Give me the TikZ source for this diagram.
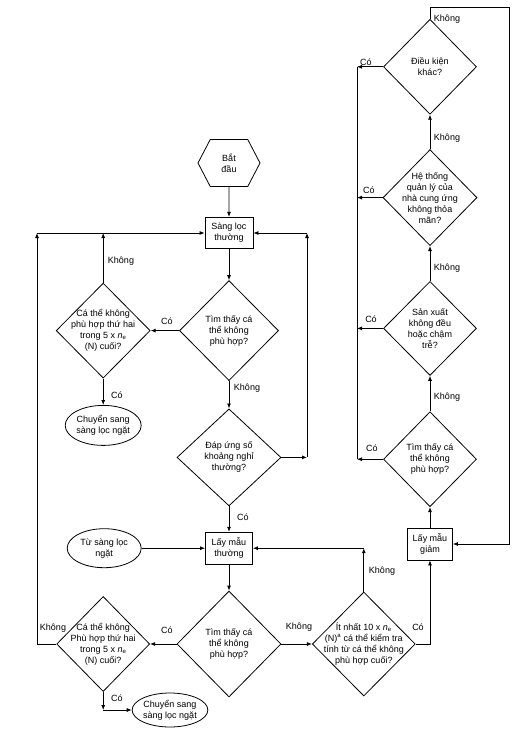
\documentclass[tikz,border=0pt]{standalone}
\usepackage{fontspec}
\setmainfont{Liberation Sans}
\usepackage{tikz}
\usetikzlibrary{arrows.meta,positioning,shapes.geometric,shapes.symbols}

\begin{document}
\begin{tikzpicture}[
    x=1pt, y=-1pt,
    font=\fontsize{9}{11}\selectfont,
    terminal/.style={signal, signal to=east and west, signal pointer angle=125, draw, thick, minimum width=62pt, minimum height=47pt, inner sep=0pt, align=center},
    block/.style={rectangle, draw, thick, minimum width=48pt, minimum height=31pt, inner sep=1pt, align=center},
    decision/.style={diamond, draw, thick, aspect=1, inner sep=-16pt, align=center},
    outcome/.style={ellipse, draw, thick, minimum width=76pt, minimum height=40pt, inner sep=0pt, align=center},
    arrow/.style={-{Latex[length=5pt,width=4pt]}, thick},
    wire/.style={thick},
    answer/.style={inner sep=0pt}
  ]
  \useasboundingbox (0,0) rectangle (530,732);

  % Main column: normal screening
  \node[terminal] (start) at (229,163) {Bắt\\đầu};
  \node[block, below=30pt of start] (screen) {Sàng lọc\\thường};
  \node[decision, minimum width=99pt, minimum height=100pt, below=31.5pt of screen] (found1) {Tìm thấy cá\\thể không\\phù hợp?};
  \node[decision, minimum width=94pt, minimum height=95pt, left=28.5pt of found1] (second1) {Cá thể không\\phù hợp thứ hai\\trong 5 x \textit{n}\textsubscript{e}\\(N) cuối?};
  \node[outcome, below=26.5pt of second1] (tight1) {Chuyển sang\\sàng lọc ngặt};
  \node[decision, minimum width=104pt, minimum height=97pt, below=27.5pt of found1] (breaks) {Đáp ứng số\\khoảng nghỉ\\thường?};

  % Main column: normal sampling
  \node[block, minimum width=47pt, minimum height=32pt, below=25.5pt of breaks] (sample) {Lấy mẫu\\thường};
  \node[outcome, minimum width=74pt, minimum height=39pt, left=63.5pt of sample] (fromtight) {Từ sàng lọc\\ngặt};
  \node[decision, minimum width=104pt, minimum height=106pt, below=26pt of sample] (found2) {Tìm thấy cá\\thể không\\phù hợp?};
  \node[decision, minimum width=93pt, minimum height=95pt, left=26.5pt of found2] (second2) {Cá thể không\\Phù hợp thứ hai\\trong 5 x \textit{n}\textsubscript{e}\\(N) cuối?};
  \node[outcome, minimum width=74pt, minimum height=34pt] (tight2) at (170,710) {Chuyển sang\\sàng lọc ngặt};
  \node[decision, minimum width=103pt, minimum height=104pt, right=30.5pt of found2] (atleast) {Ít nhất 10 x \textit{n}\textsubscript{e}\\(N)\textsuperscript{a} cá thể kiểm tra\\tính từ cá thể không\\phù hợp cuối?};

  % Right column: reduced sampling
  \node[block, minimum width=45pt, minimum height=32pt] (reduced) at (430,544) {Lấy mẫu\\giảm};
  \node[decision, minimum width=93pt, minimum height=95pt, above=20.5pt of reduced] (found3) {Tìm thấy cá\\thể không\\phù hợp?};
  \node[decision, minimum width=93pt, minimum height=94pt, above=35.5pt of found3] (irregular) {Sản xuất\\không đều\\hoặc chậm\\trễ?};
  \node[decision, minimum width=94pt, minimum height=96pt, above=35pt of irregular] (supplier) {Hệ thống\\quản lý của\\nhà cung ứng\\không thỏa\\mãn?};
  \node[decision, minimum width=93pt, minimum height=95pt, above=34.5pt of supplier] (other) {Điều kiện\\khác?};

  % Corner points of the loops
  \coordinate (ltop) at (37,233);
  \coordinate (lbot) at (ltop |- second2.west);
  \coordinate (mtop) at (second1.north |- ltop);
  \coordinate (rtop) at (307,233);
  \coordinate (rbot) at (rtop |- breaks.east);
  \coordinate (tightc) at (second2.south |- tight2.west);
  \coordinate (backc) at (atleast.north |- sample.east);
  \coordinate (otop) at (other.north |- 0,7);
  \coordinate (otopr) at (509,7);
  \coordinate (obot) at (otopr |- reduced.east);
  \coordinate (xtop) at (357,0 |- other.west);
  \coordinate (x2) at (xtop |- supplier.west);
  \coordinate (x3) at (xtop |- irregular.west);
  \coordinate (xbot) at (xtop |- found3.west);

  % Arrows: screening
  \draw[arrow] (start) -- (screen);
  \draw[arrow] (screen) -- (found1);
  \draw[arrow] (found1) -- (second1);
  \draw[arrow] (found1) -- (breaks);
  \draw[arrow] (second1) -- (tight1);
  \draw[arrow] (second1) -- (mtop);
  \draw[arrow] (breaks.east) -- (rbot);
  \draw[arrow] (rbot) -- (rtop);
  \draw[arrow] (rtop) -- (screen.east |- rtop);
  \draw[arrow] (breaks) -- (sample);

  % Arrows: sampling
  \draw[arrow] (fromtight) -- (sample);
  \draw[arrow] (sample) -- (found2);
  \draw[arrow] (found2) -- (second2);
  \draw[arrow] (found2) -- (atleast);
  \draw[wire] (second2.west) -- (lbot);
  \draw[arrow] (lbot) -- (ltop);
  \draw[arrow] (ltop) -- (screen.west |- ltop);
  \draw[arrow] (second2.south) -- (tightc);
  \draw[arrow] (tightc) -- (tight2);
  \draw[arrow] (atleast.north) -- (backc);
  \draw[arrow] (backc) -- (sample.east);
  \draw[arrow] (atleast.east) -| (reduced.south);

  % Arrows: reduced sampling
  \draw[arrow] (reduced) -- (found3);
  \draw[arrow] (found3) -- (irregular);
  \draw[arrow] (irregular) -- (supplier);
  \draw[arrow] (supplier) -- (other);
  \draw[arrow] (other.north) -- (otop) -- (otopr) -- (obot) -- (reduced.east);
  \draw[arrow] (other.west) -- (xtop);
  \draw[arrow] (supplier.west) -- (x2);
  \draw[arrow] (irregular.west) -- (x3);
  \draw[arrow] (found3.west) -- (xbot);
  \draw[wire] (xtop) -- (xbot);

  % Answers
  \node[answer] (a1) at (121,261) {Không};
  \node[answer] (a2) at (167,321) {Có};
  \node[answer] (a3) at (247,388) {Không};
  \node[answer] (a4) at (117,395) {Có};
  \node[answer] (a5) at (243,517) {Có};
  \node[answer] (a6) at (53,628) {Không};
  \node[answer] (a7) at (167,630) {Có};
  \node[answer] (a8) at (117,698) {Có};
  \node[answer] (a9) at (299,627) {Không};
  \node[answer] (a10) at (382,571) {Không};
  \node[answer] (a11) at (418,627) {Có};
  \node[answer] (a12) at (447,397) {Không};
  \node[answer] (a13) at (447,268) {Không};
  \node[answer] (a14) at (447,138) {Không};
  \node[answer] (a15) at (447,19) {Không};
  \node[answer] (a16) at (366,62) {Có};
  \node[answer] (a17) at (369,190) {Có};
  \node[answer] (a18) at (371,319) {Có};
  \node[answer] (a19) at (372,448) {Có};
\end{tikzpicture}
\end{document}
